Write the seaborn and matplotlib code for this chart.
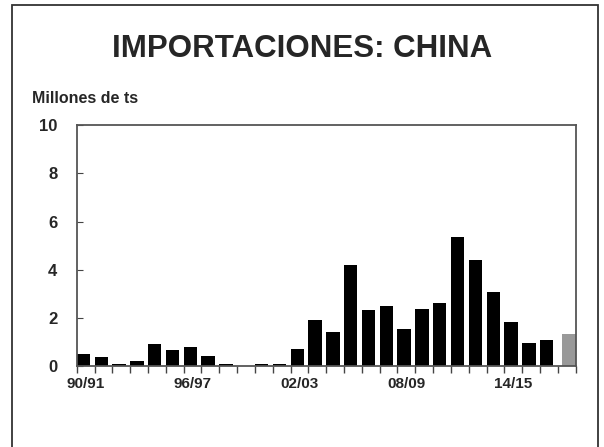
import pandas as pd
import numpy as np
import matplotlib.pyplot as plt
import seaborn as sns
from matplotlib.patches import Rectangle

# campañas 90/91 .. 17/18
campanas = ['90/91', '91/92', '92/93', '93/94', '94/95', '95/96', '96/97', '97/98',
            '98/99', '99/00', '00/01', '01/02', '02/03', '03/04', '04/05', '05/06',
            '06/07', '07/08', '08/09', '09/10', '10/11', '11/12', '12/13', '13/14',
            '14/15', '15/16', '16/17', '17/18']
importaciones = [0.50, 0.36, 0.08, 0.20, 0.90, 0.68, 0.80, 0.42,
                 0.10, 0.02, 0.07, 0.10, 0.70, 1.93, 1.41, 4.20,
                 2.31, 2.50, 1.52, 2.38, 2.61, 5.35, 4.41, 3.08,
                 1.81, 0.97, 1.10, 1.34]
tipo = ['real'] * 27 + ['proyeccion']
etiquetas = ['90/91', '96/97', '02/03', '08/09', '14/15']

df = pd.DataFrame({'campana': campanas, 'valor': importaciones, 'tipo': tipo})

sns.set_style('white')
plt.rcParams['font.family'] = ['Liberation Sans', 'DejaVu Sans']

fig = plt.figure(figsize=(6.04, 4.47), dpi=100)
ax = fig.add_axes([0.127, 0.181, 0.826, 0.539])

sns.barplot(data=df, x='campana', y='valor', hue='tipo', order=campanas,
            palette={'real': 'black', 'proyeccion': '#999999'},
            dodge=False, width=0.75, linewidth=0, legend=False, ax=ax)

# barras negras pegadas a la izquierda, la proyeccion a la derecha
for cont, shift in zip(ax.containers, [-0.125, 0.125]):
    for p in cont.patches:
        p.set_x(p.get_x() + shift)

ax.set_xlim(-0.5, len(campanas) - 0.5)
ax.set_ylim(0, 10)
ax.set_yticks(np.arange(0, 11, 2))
ax.set_xticks([campanas.index(e) for e in etiquetas])
ax.set_xticklabels(etiquetas, fontsize=11, fontweight='bold')
ax.set_xticks(np.arange(-0.5, len(campanas), 1), minor=True)
ax.tick_params(axis='x', which='major', length=0, pad=8)
ax.tick_params(axis='x', which='minor', length=5, direction='out', width=1, color='#444444', bottom=True)
ax.tick_params(axis='y', length=4, direction='in', width=0.8, color='#444444', left=True, labelsize=12, pad=14)
for lab in ax.get_yticklabels():
    lab.set_fontweight('bold')
ax.set_xlabel('')
ax.set_ylabel('')
for s in ax.spines.values():
    s.set_visible(True)
    s.set_color('#555555')
    s.set_linewidth(1.3)

fig.text(0.5, 0.89, 'IMPORTACIONES: CHINA', ha='center', va='center',
         fontsize=22.5, fontweight='bold')
fig.text(0.053, 0.779, 'Millones de ts', ha='left', va='center',
         fontsize=11.5, fontweight='bold')

# marco exterior
fig.patches.append(Rectangle((12 / 604, -0.05), 586 / 604, 1.05 - 5 / 447,
                             transform=fig.transFigure, fill=False,
                             edgecolor='#333333', linewidth=1.3))

fig.savefig('out.png', dpi=100)
